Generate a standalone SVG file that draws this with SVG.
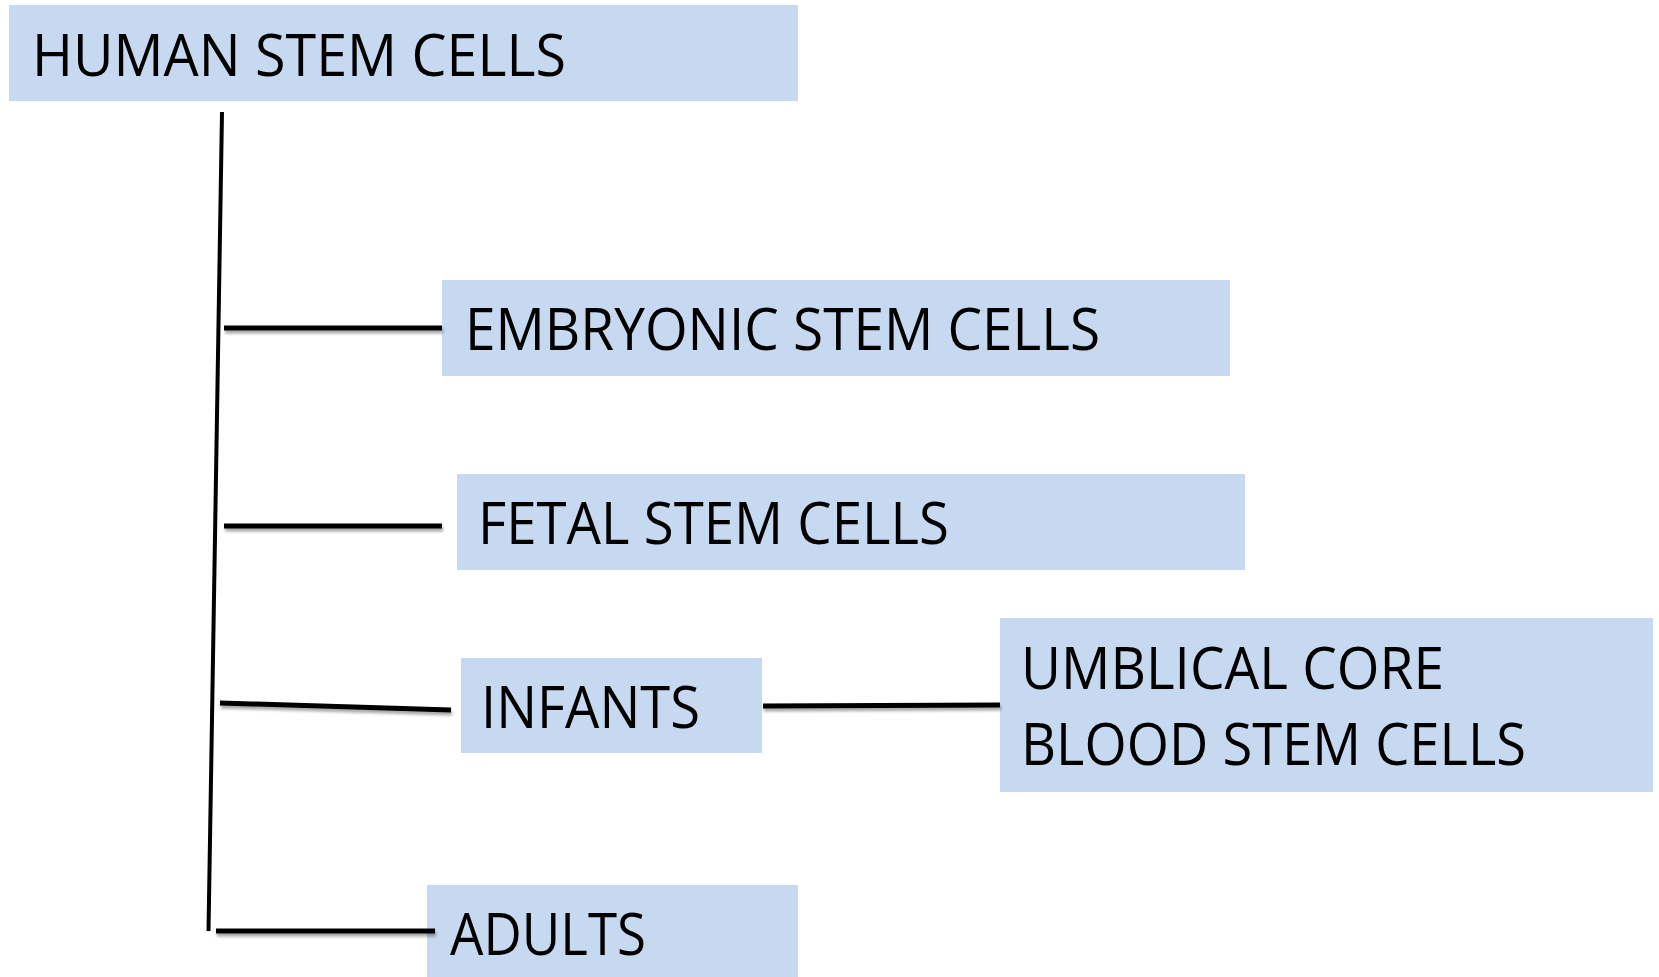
<svg xmlns="http://www.w3.org/2000/svg" width="1659" height="977" viewBox="0 0 1659 977">
<defs>
<filter id="sh" filterUnits="userSpaceOnUse" x="0" y="0" width="1659" height="977">
<feGaussianBlur in="SourceAlpha" stdDeviation="1.5"/>
<feOffset dx="1" dy="3" result="b"/>
<feComponentTransfer><feFuncA type="linear" slope="0.35"/></feComponentTransfer>
<feMerge><feMergeNode/><feMergeNode in="SourceGraphic"/></feMerge>
</filter>
</defs>
<style>
.box{fill:#C6D9F0;}
.t{font-family:"Open Sans","Liberation Sans",sans-serif;font-size:59px;fill:#000;}
.ln{stroke:#000;stroke-width:5;fill:none;stroke-linecap:butt;}
</style>
<rect width="1659" height="977" fill="#fff"/>
<g id="human">
<rect class="box" x="9" y="5" width="789" height="96"/>
<text class="t" x="32" y="76" textLength="534" lengthAdjust="spacingAndGlyphs">HUMAN STEM CELLS</text>
</g>
<g id="embryonic">
<rect class="box" x="442" y="280" width="788" height="96"/>
<text class="t" x="465" y="350" textLength="635" lengthAdjust="spacingAndGlyphs">EMBRYONIC STEM CELLS</text>
</g>
<g id="fetal">
<rect class="box" x="457" y="474" width="788" height="96"/>
<text class="t" x="478" y="544" textLength="471" lengthAdjust="spacingAndGlyphs">FETAL STEM CELLS</text>
</g>
<g id="infants">
<rect class="box" x="461" y="658" width="301" height="95"/>
<text class="t" x="481" y="728" textLength="219" lengthAdjust="spacingAndGlyphs">INFANTS</text>
</g>
<g id="umbilical">
<rect class="box" x="1000" y="618" width="653" height="174"/>
<text class="t" x="1021" y="689" textLength="423" lengthAdjust="spacingAndGlyphs">UMBLICAL CORE</text>
<text class="t" x="1021" y="765" textLength="505" lengthAdjust="spacingAndGlyphs">BLOOD STEM CELLS</text>
</g>
<g id="adults">
<rect class="box" x="427" y="885" width="371" height="92"/>
<text class="t" x="450" y="955" textLength="196" lengthAdjust="spacingAndGlyphs">ADULTS</text>
</g>
<g id="connectors">
<line class="ln" style="stroke-width:4" x1="222" y1="112" x2="208.5" y2="931"/>
<line class="ln" filter="url(#sh)" x1="224" y1="328" x2="442" y2="328"/>
<line class="ln" filter="url(#sh)" x1="224" y1="526" x2="442" y2="526"/>
<line class="ln" filter="url(#sh)" x1="220" y1="703" x2="451" y2="710"/>
<line class="ln" filter="url(#sh)" x1="763" y1="706" x2="1000" y2="705"/>
<line class="ln" filter="url(#sh)" x1="216" y1="931" x2="435" y2="931"/>
</g>
</svg>
